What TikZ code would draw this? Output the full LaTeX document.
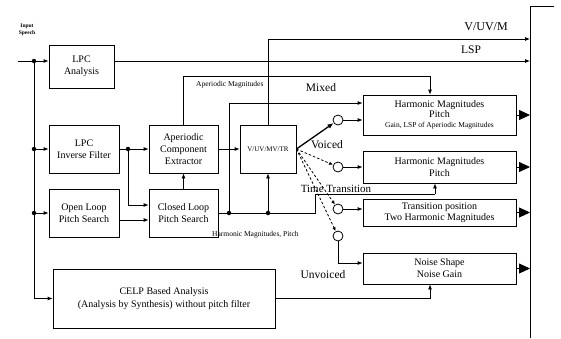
\documentclass[tikz,border=0pt]{standalone}
\usepackage{fontspec}
\setmainfont{Liberation Serif}
\usetikzlibrary{arrows.meta,calc}
\begin{document}
\begin{tikzpicture}[x=1pt,y=-1pt,
  box/.style={draw,line width=0.8pt,inner sep=0pt,align=center,font=\fontsize{10}{12}\selectfont},
  ln/.style={line width=0.8pt},
  arr/.style={ln,-{Latex[length=5pt,width=4pt]}},
  bigarr/.style={ln,-{Triangle[length=11pt,width=10pt]}},
  dot/.style={circle,fill,inner sep=0pt,minimum size=4.5pt},
  sw/.style={circle,draw,line width=0.8pt,inner sep=0pt,minimum size=10pt},
  lbl/.style={font=\fontsize{11.5}{12}\selectfont,inner sep=0pt},
  small/.style={font=\fontsize{7.5}{8}\selectfont,inner sep=0pt},
  dsh/.style={ln,dash pattern=on 2.5pt off 2pt,-{Latex[length=4pt,width=3.5pt]}}
]
\useasboundingbox (0,0) rectangle (561,338);
% boxes
\node[box,minimum width=65pt,minimum height=43pt] (lpca) at (81.5,66.5) {LPC\\Analysis};
\node[box,minimum width=70pt,minimum height=48pt] (lpci) at (84,149) {LPC\\Inverse Filter};
\node[box,minimum width=70pt,minimum height=48pt] (olps) at (84,213) {Open Loop\\Pitch Search};
\node[box,minimum width=69pt,minimum height=48pt] (ace) at (183.5,149) {Aperiodic\\Component\\Extractor};
\node[box,minimum width=69pt,minimum height=48pt] (clps) at (183.5,213) {Closed Loop\\Pitch Search};
\node[box,minimum width=56pt,minimum height=48pt,font=\fontsize{7}{8}\selectfont] (vuv) at (268,149) {V/UV/MV/TR};
\node[box,minimum width=153pt,minimum height=40pt,font=\fontsize{10}{10}\selectfont] (b1) at (439.5,115) {Harmonic Magnitudes\\Pitch\\{\fontsize{7.5}{8}\selectfont Gain, LSP of Aperiodic Magnitudes}};
\node[box,minimum width=153pt,minimum height=32pt] (b2) at (439.5,167) {Harmonic Magnitudes\\Pitch};
\node[box,minimum width=153pt,minimum height=27pt,font=\fontsize{10}{11}\selectfont] (b3) at (439.5,212.5) {Transition position\\Two Harmonic Magnitudes};
\node[box,minimum width=153pt,minimum height=31pt] (b4) at (439.5,268.5) {Noise Shape\\Noise Gain};
\node[box,minimum width=222pt,minimum height=59pt,font=\fontsize{10}{13.5}\selectfont] (celp) at (164,298.5) {CELP Based Analysis\\(Analysis by Synthesis) without pitch filter};
% output bar
\coordinate (bartop) at (530,6);
\coordinate (barbot) at (530,338);
\coordinate (stub) at (554,6);
\draw[ln] (stub) -- (bartop) -- (barbot);
\foreach \b in {b1,b2,b3,b4} \draw[bigarr] (\b.east) -- (\b.east -| bartop);
% input
\node[font=\bfseries\fontsize{5.5}{6.5}\selectfont,align=center,inner sep=0pt] (inlbl) at (27,30) {Input\\Speech};
\coordinate (in) at (18,61);
\node[dot] (j0) at (34,61) {};
\node[dot] (j1) at (34,149) {};
\node[dot] (j2) at (34,213) {};
\coordinate (jc) at (34,298.5);
\draw[ln] (in) -- (j0);
\draw[arr] (j0) -- (lpca.west |- j0);
\draw[ln] (j0) -- (jc);
\draw[arr] (jc) -- (celp.west);
\draw[arr] (j1) -- (lpci.west);
\draw[arr] (j2) -- (olps.west);
% LSP
\draw[arr] (lpca.east |- j0) -- (bartop |- j0);
\node[lbl] (lsp) at (471,50) {LSP};
% inverse filter
\node[dot] (j3) at (128,149) {};
\draw[ln] (lpci.east) -- (j3);
\draw[arr] (j3) -- (ace.west);
\draw[arr] (j3) |- ($(clps.west)+(0,-8)$);
\draw[arr] ($(olps.east)+(0,7)$) -- ($(clps.west)+(0,7)$);
\draw[arr] (clps.north) -- (ace.south);
\draw[arr] (ace.east) -- (vuv.west);
% aperiodic magnitudes
\coordinate (am) at (430,76);
\draw[arr] (ace.north) |- (am) -- (am |- b1.north);
\node[small,anchor=west] (aml) at (196,85) {Aperiodic Magnitudes};
% closed loop output
\node[dot] (j4) at (229,213) {};
\node[dot] (j5) at (268,213) {};
\coordinate (tt1) at (315,194);
\coordinate (tt2) at (435,194);
\draw[ln] (clps.east) -- (j4) -- (j5) -- (tt1 |- j5) -- (tt1) -- (tt2);
\draw[arr] (tt2) -- (tt2 |- b2.south);
\draw[arr] (j5) -- (vuv.south);
\coordinate (mx) at (229,103);
\draw[arr] (j4) -- (mx) -- (mx -| b1.west);
\node[lbl] (mixed) at (321,88) {Mixed};
\node[small,anchor=west] (hmp) at (212,235) {Harmonic Magnitudes, Pitch};
% V/UV/M
\coordinate (vt) at (268,39);
\draw[arr] (vuv.north) -- (vt) -- (vt -| bartop);
\node[lbl,font=\fontsize{12}{12}\selectfont] (vuvm) at (486,27) {V/UV/M};
% switches
\node[sw] (c1) at (338,120) {};
\node[sw] (c2) at (338,167) {};
\node[sw] (c3) at (338,209) {};
\node[sw] (c4) at (338,236) {};
\draw[line width=1.3pt,-{Latex[length=6pt,width=5pt]}] (vuv.east) -- (c1);
\draw[dsh] (vuv.east) -- (c2);
\draw[dsh] (vuv.east) -- (c3);
\draw[dsh] (vuv.east) -- (c4);
\draw[arr] (c1) -- (c1 -| b1.west);
\draw[arr] (c2) -- (c2 -| b2.west);
\draw[arr] (c3) -- (c3 -| b3.west);
\coordinate (u4) at (338,263);
\draw[arr] (c4) -- (u4) -- (u4 -| b4.west);
\coordinate (cb) at (430,298.5);
\draw[arr] (celp.east) -- (cb) -- (cb |- b4.south);
\node[lbl] (voiced) at (327,145) {Voiced};
\node[lbl,font=\fontsize{11}{11}\selectfont,anchor=base] (ttl) at (336,192.5) {Time Transition};
\node[lbl] (unv) at (323,275) {Unvoiced};
\end{tikzpicture}
\end{document}
